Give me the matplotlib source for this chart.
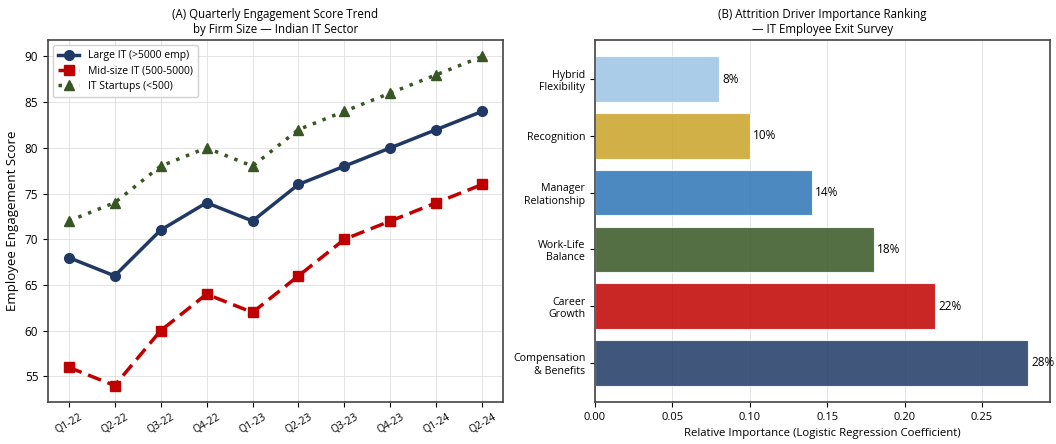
import matplotlib
matplotlib.use("Agg")
import matplotlib.pyplot as plt
import numpy as np

plt.rcParams['font.family'] = ['Open Sans', 'DejaVu Sans']

# Panel A data: quarterly engagement scores
quarters = ["Q1-22", "Q2-22", "Q3-22", "Q4-22", "Q1-23",
            "Q2-23", "Q3-23", "Q4-23", "Q1-24", "Q2-24"]
large_it = [68, 66, 71, 74, 72, 76, 78, 80, 82, 84]
mid_it = [56, 54, 60, 64, 62, 66, 70, 72, 74, 76]
startups = [72, 74, 78, 80, 78, 82, 84, 86, 88, 90]

# Panel B data: attrition driver importance
drivers = ["Compensation\n& Benefits", "Career\nGrowth", "Work-Life\nBalance",
           "Manager\nRelationship", "Recognition", "Hybrid\nFlexibility"]
importance = [0.28, 0.22, 0.18, 0.14, 0.10, 0.08]
bar_colors = ["#1F3864", "#C00000", "#375623", "#2E75B6", "#C9A227", "#9DC3E6"]

fig = plt.figure(figsize=(10.56, 4.44), dpi=100)
ax1 = fig.add_axes([48 / 1056, 42 / 444, 455 / 1056, 362 / 444])
ax2 = fig.add_axes([595 / 1056, 42 / 444, 455 / 1056, 362 / 444])

x = np.arange(len(quarters))
ax1.plot(x, large_it, color="#1F3864", lw=2.5, marker="o", ms=7,
         label="Large IT (>5000 emp)", zorder=3)
ax1.plot(x, mid_it, color="#C00000", lw=2.5, ls=(0, (4, 2)), marker="s", ms=7,
         label="Mid-size IT (500-5000)", zorder=3)
ax1.plot(x, startups, color="#375623", lw=2.5, ls=(0, (1, 2)), marker="^", ms=7,
         label="IT Startups (<500)", zorder=3)
ax1.set_xticks(x)
ax1.set_xticklabels(quarters, rotation=30, fontsize=7.5)
ax1.tick_params(axis="y", labelsize=8.5)
ax1.set_ylabel("Employee Engagement Score", fontsize=9.5)
ax1.set_title("(A) Quarterly Engagement Score Trend\nby Firm Size — Indian IT Sector",
              fontsize=8.3, pad=5, linespacing=1.2)
ax1.grid(True, color="#dddddd", lw=0.7, alpha=0.8)
ax1.set_axisbelow(True)
ax1.legend(loc="upper left", fontsize=7.5, framealpha=0.9, edgecolor="#cccccc",
           handlelength=2.0, borderpad=0.5, labelspacing=0.4)

y = np.arange(len(drivers))
ax2.barh(y, importance, height=0.8, color=bar_colors, alpha=0.85,
         edgecolor="white", linewidth=0.8, zorder=2)
for yi, v in zip(y, importance):
    ax2.text(v + 0.002, yi, f"{v * 100:.0f}%", va="center", ha="left", fontsize=8.5)
ax2.set_yticks(y)
ax2.set_yticklabels(drivers, fontsize=7.7)
ax2.tick_params(axis="x", labelsize=8)
ax2.set_xlim(0, 0.294)
ax2.set_xlabel("Relative Importance (Logistic Regression Coefficient)", fontsize=8.2)
ax2.set_title("(B) Attrition Driver Importance Ranking\n— IT Employee Exit Survey",
              fontsize=8.3, pad=5, linespacing=1.2)
ax2.grid(True, axis="x", color="#dddddd", lw=0.7, alpha=0.8)
ax2.set_axisbelow(True)

for ax in (ax1, ax2):
    for s in ax.spines.values():
        s.set_color("#444444")
        s.set_linewidth(1.2)

fig.savefig("out.png", dpi=100)
